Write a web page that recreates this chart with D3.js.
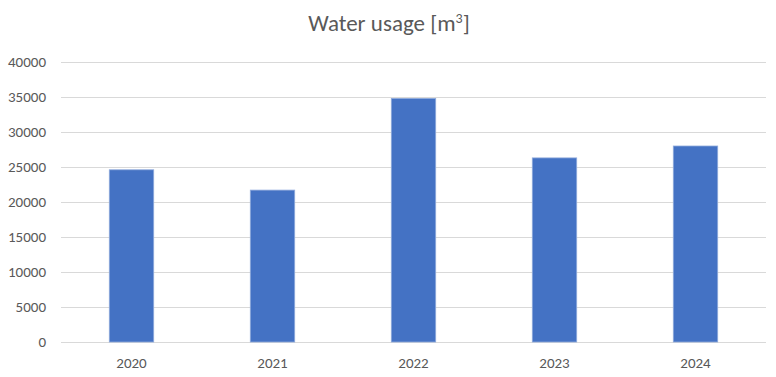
<!DOCTYPE html>
<html lang="en">
<head>
    <meta charset="utf-8">
    <title>Water usage</title>
    <script src="https://d3js.org/d3.v7.min.js"></script>
    <style>
        body { margin: 0; background: #fff; }
        text { font-family: Calibri, Carlito, "Open Sans", sans-serif; fill: #595959; }
        .title { font-size: 23px; }
        .tick text { font-size: 15px; }
    </style>
</head>
<body>
    <script type="text/javascript">
        //data
        const years = ["2020", "2021", "2022", "2023", "2024"];
        const usage = [24600, 21700, 34800, 26300, 28000];
        const yTicks = [0, 5000, 10000, 15000, 20000, 25000, 30000, 35000, 40000];

        const w = 776;
        const h = 377;
        const margin = { top: 62, right: 10, bottom: 35, left: 61 };

        const svg = d3.select("body")
            .append("svg")
            .attr("width", w)
            .attr("height", h);

        const x = d3.scaleBand()
            .domain(years)
            .range([margin.left, w - margin.right])
            .paddingInner(0.685)
            .paddingOuter(0.3425);

        const y = d3.scaleLinear()
            .domain([0, 40000])
            .range([h - margin.bottom, margin.top]);

        //gridlines
        svg.append("g")
            .selectAll("line")
            .data(yTicks)
            .enter()
            .append("line")
            .attr("x1", margin.left)
            .attr("x2", w - margin.right)
            .attr("y1", d => Math.round(y(d)) + 0.5)
            .attr("y2", d => Math.round(y(d)) + 0.5)
            .attr("stroke", "#d9d9d9")
            .attr("stroke-width", 1);

        //y axis labels
        const yAxis = svg.append("g")
            .attr("transform", "translate(" + (margin.left - 15) + ",0)")
            .call(d3.axisLeft(y).tickValues(yTicks).tickFormat(d3.format("d")).tickSize(0).tickPadding(0));
        yAxis.select(".domain").remove();

        //x axis labels
        const xAxis = svg.append("g")
            .attr("transform", "translate(0," + (h - margin.bottom) + ")")
            .call(d3.axisBottom(x).tickSize(0).tickPadding(15));
        xAxis.select(".domain").remove();

        //bars
        svg.append("g")
            .selectAll("rect")
            .data(usage)
            .enter()
            .append("rect")
            .attr("x", (d, i) => x(years[i]))
            .attr("y", d => y(d))
            .attr("width", x.bandwidth())
            .attr("height", d => y(0) - y(d))
            .attr("fill", "#4472c4")
            .attr("stroke", "#8faadc")
            .attr("stroke-width", 0.8);

        //title
        const title = svg.append("text")
            .attr("class", "title")
            .attr("x", 389)
            .attr("y", 31)
            .attr("text-anchor", "middle")
            .text("Water usage [m");
        title.append("tspan")
            .attr("dy", -8)
            .style("font-size", "14px")
            .text("3");
        title.append("tspan")
            .attr("dy", 8)
            .text("]");
    </script>
</body>
</html>
